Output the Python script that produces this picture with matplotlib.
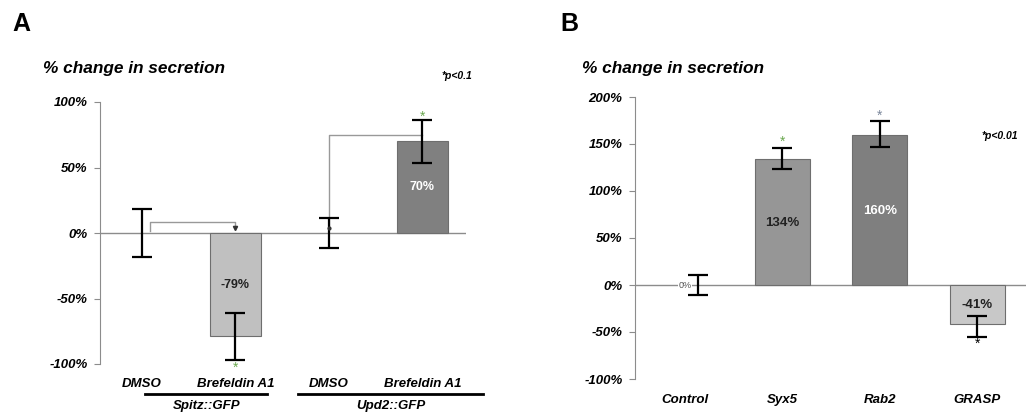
import matplotlib
matplotlib.use("Agg")
import matplotlib.pyplot as plt
import matplotlib.transforms as mtransforms
import numpy as np

plt.rcParams['font.family'] = ['Liberation Sans', 'DejaVu Sans']

# panel A data
a_labels = ['DMSO', 'Brefeldin A1', 'DMSO', 'Brefeldin A1']
a_groups = ['Spitz::GFP', 'Upd2::GFP']
a_values = [0, -79, 0, 70]
a_err = [18.5, 18, 11.5, 16.5]
a_colors = ['#c0c0c0', '#c0c0c0', '#808080', '#808080']
a_text = ['', '-79%', '', '70%']
a_ticks = [-100, -50, 0, 50, 100]

# panel B data
b_labels = ['Control', 'Syx5', 'Rab2', 'GRASP']
b_values = [0, 134, 160, -41]
b_err_low = [10.5, 11, 13, 14]
b_err_high = [10.5, 12, 14, 8]
b_colors = ['#969696', '#969696', '#7f7f7f', '#c8c8c8']
b_text = ['0%', '134%', '160%', '-41%']
b_ticks = [-100, -50, 0, 50, 100, 150, 200]

W, H = 1026, 416
fig = plt.figure(figsize=(W / 100, H / 100), dpi=100)

def px_axes(x0, y_top, x1, y_bot):
    return fig.add_axes([x0 / W, 1 - y_bot / H, (x1 - x0) / W, (y_bot - y_top) / H])

tick_font = dict(fontsize=9.5, fontweight='bold', fontstyle='italic')
gray = '#8c8c8c'

def style(ax, ticks):
    for s in ['top', 'right', 'bottom']:
        ax.spines[s].set_visible(False)
    ax.spines['left'].set_color(gray)
    ax.set_yticks(ticks)
    ax.set_yticklabels([f'{t}%' for t in ticks], **tick_font)
    ax.tick_params(axis='y', length=4, color=gray, pad=5)
    ax.set_xticks([])
    ax.axhline(0, color=gray, lw=1, zorder=1)

# ---------------- panel A
axA = px_axes(100, 102, 466, 364)
xA = np.arange(len(a_values))
axA.set_xlim(-0.445, 3.465)
axA.set_ylim(-100, 100)
style(axA, a_ticks)
for i in range(len(a_values)):
    if a_values[i] != 0:
        axA.bar(xA[i], a_values[i], 0.54, color=a_colors[i], edgecolor='#6e6e6e', lw=0.8, zorder=2)
axA.errorbar(xA, a_values, yerr=a_err, fmt='none', ecolor='black', elinewidth=1.6,
             capsize=7.5, capthick=1.6, zorder=3)
for i, t in enumerate(a_text):
    if t:
        axA.text(xA[i], a_values[i] * 0.5, t, ha='center', va='center', fontsize=9,
                 fontweight='bold', color='white' if a_values[i] > 0 else '#222222', zorder=4)
# brackets
axA.plot([0.09, 0.09, 1, 1], [1.5, 8.4, 8.4, 4], color='#999999', lw=1, zorder=2)
axA.plot([1], [3.5], marker='v', ms=3, color='#333333', zorder=4)
axA.plot([2, 2, 3], [4, 75, 75], color='#999999', lw=1, zorder=2)
axA.plot([2], [4], marker='o', ms=2, color='#333333', zorder=4)
axA.text(3, 89, '*', color='#6aa84f', ha='center', va='center', fontsize=10)
axA.text(1, -103, '*', color='#6aa84f', ha='center', va='center', fontsize=10)

trA = mtransforms.blended_transform_factory(axA.transData, fig.transFigure)
for i, lab in enumerate(a_labels):
    axA.text(xA[i], 1 - 384 / H, lab, transform=trA, ha='center', va='center', **tick_font)
for (x0, x1), g in zip([(0.04, 1.34), (1.67, 3.65)], a_groups):
    axA.plot([x0, x1], [1 - 394 / H] * 2, transform=trA, color='black', lw=2, clip_on=False)
    axA.text((x0 + x1) / 2, 1 - 406 / H, g, transform=trA, ha='center', va='center', **tick_font)

fig.text(12 / W, 1 - 24 / H, 'A', fontsize=18, fontweight='bold', va='center')
fig.text(43 / W, 1 - 69 / H, '% change in secretion', fontsize=12.4, fontweight='bold',
         fontstyle='italic', va='center')
fig.text(457 / W, 1 - 76 / H, '*p<0.1', fontsize=7.5, fontweight='bold', fontstyle='italic',
         ha='center', va='center')

# ---------------- panel B
axB = px_axes(635, 97, 1026, 379)
xB = np.arange(len(b_values))
axB.set_xlim(-0.51, 3.5)
axB.set_ylim(-100, 200)
style(axB, b_ticks)
for i in range(len(b_values)):
    if b_values[i] != 0:
        axB.bar(xB[i], b_values[i], 0.56, color=b_colors[i], edgecolor='#6e6e6e', lw=0.8, zorder=2)
err_x = xB + np.array([0.14, 0, 0, 0])
axB.errorbar(err_x, b_values, yerr=[b_err_low, b_err_high], fmt='none', ecolor='black',
             elinewidth=1.6, capsize=7.5, capthick=1.6, zorder=3)
for i, t in enumerate(b_text):
    if i == 0:
        axB.text(xB[i], 0, t, ha='center', va='center', fontsize=6.5, color='#555555',
                 zorder=4, bbox=dict(fc='white', ec='none', pad=0.3))
        continue
    y = {1: 66, 2: 79, 3: -21}[i]
    axB.text(xB[i], y, t, ha='center', va='center', fontsize=9.5, fontweight='bold',
             color='white' if i == 2 else '#222222', zorder=4)
axB.text(1, 152, '*', color='#6aa84f', ha='center', va='center', fontsize=10)
axB.text(2, 180, '*', color='#7a869a', ha='center', va='center', fontsize=10)
axB.text(3, -63, '*', color='black', ha='center', va='center', fontsize=10)

trB = mtransforms.blended_transform_factory(axB.transData, fig.transFigure)
for i, lab in enumerate(b_labels):
    axB.text(xB[i], 1 - 400 / H, lab, transform=trB, ha='center', va='center', **tick_font)

fig.text(560 / W, 1 - 24 / H, 'B', fontsize=18, fontweight='bold', va='center')
fig.text(582 / W, 1 - 69 / H, '% change in secretion', fontsize=12.4, fontweight='bold',
         fontstyle='italic', va='center')
fig.text(1000 / W, 1 - 136 / H, '*p<0.01', fontsize=7.5, fontweight='bold', fontstyle='italic',
         ha='center', va='center')

fig.savefig('out.png', dpi=100)
